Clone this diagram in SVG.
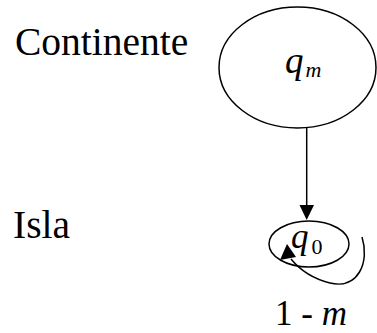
<svg xmlns="http://www.w3.org/2000/svg" width="377" height="333" viewBox="0 0 377 333">
<style>
.t{font-family:"Liberation Serif","Times New Roman",serif;fill:#000}
.i{font-style:italic}
.s{fill:none;stroke:#000;stroke-width:1.5}
</style>
<rect width="377" height="333" fill="#fff"/>
<text class="t" x="15" y="55" font-size="39.5">Continente</text>
<text class="t" x="13" y="238" font-size="39.5">Isla</text>
<g id="qm">
<ellipse class="s" cx="297.5" cy="67.5" rx="78.5" ry="60.5"/>
<text class="t" x="285" y="73" font-size="37"><tspan class="i">q</tspan><tspan class="i" font-size="22" dx="2" dy="4">m</tspan></text>
</g>
<g id="q0">
<ellipse class="s" cx="309" cy="244" rx="40" ry="23"/>
<text class="t" x="291" y="248" font-size="35"><tspan class="i">q</tspan><tspan font-size="22" dx="3" dy="6">0</tspan></text>
</g>
<g id="connectors">
<line class="s" x1="306.7" y1="127" x2="306.7" y2="206"/>
<path d="M299.5,205 L314,205 L306.7,220 Z" fill="#000"/>
<path class="s" d="M362,237 C370,262 358,290 330,283 C314,279 300,270 291,259"/>
<path d="M287,244 L280,260 L296,257 Z" fill="#000"/>
</g>
<text class="t" x="275" y="325" font-size="35">1 - <tspan class="i">m</tspan></text>
</svg>
